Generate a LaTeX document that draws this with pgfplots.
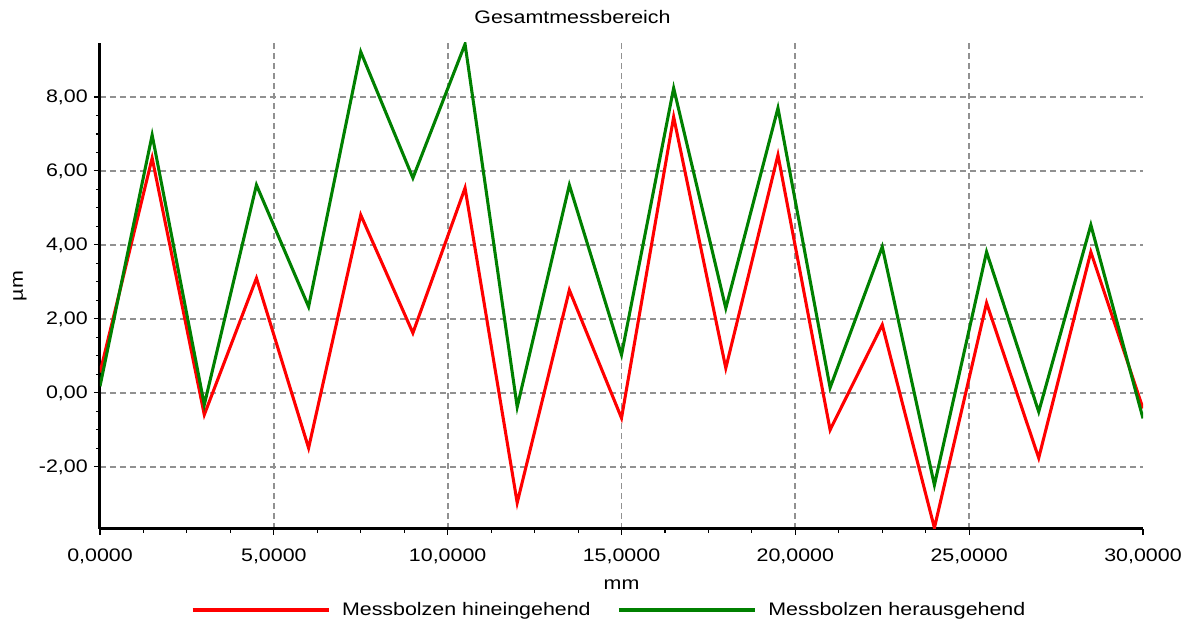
\documentclass[border=0pt]{standalone}
\usepackage{pgfplots}
\pgfplotsset{compat=1.18}
\usepackage{fontspec}
\setmainfont{Liberation Sans}[FakeStretch=1.18]
\definecolor{myred}{RGB}{255,0,0}
\definecolor{mygreen}{RGB}{0,128,0}
\definecolor{gridgray}{RGB}{145,145,145}
\pgfplotstableread{
x red green
0.0 0.55 0.18
1.5 6.35 6.97
3.0 -0.59 -0.32
4.5 3.10 5.62
6.0 -1.49 2.33
7.5 4.81 9.22
9.0 1.62 5.81
10.5 5.54 9.43
12.0 -2.97 -0.38
13.5 2.78 5.62
15.0 -0.68 1.03
16.5 7.46 8.24
18.0 0.67 2.29
19.5 6.43 7.70
21.0 -1.00 0.14
22.5 1.84 3.95
24.0 -3.65 -2.49
25.5 2.43 3.81
27.0 -1.76 -0.51
28.5 3.81 4.54
30.0 -0.42 -0.69
}\datatable
\begin{document}
\fontsize{13.6pt}{16pt}\selectfont
\begin{tikzpicture}
\begin{axis}[
  scale only axis, width=782.25pt, height=364.5pt,
  xmin=0, xmax=30, ymin=-3.68, ymax=9.46,
  axis x line=bottom, axis y line=left,
  axis line style={-, line width=2.25pt, black},
  every outer x axis line/.append style={-},
  every outer y axis line/.append style={-},
  xtick={0,5,10,15,20,25}, extra x ticks={30}, extra x tick style={grid=none},
  ytick={-2,0,2,4,6,8},
  minor x tick num=3, minor y tick num=3,
  tick align=outside, major tick length=4.5pt, minor tick length=3pt,
  tick style={black, line width=0.8pt},
  grid=major,
  major grid style={gridgray, line width=1.3pt, dash pattern=on 4.5pt off 3pt},
  /pgf/number format/assume math mode=true,
  x tick label style={yshift=-5.5pt, /pgf/number format/.cd, fixed, fixed zerofill, precision=4, use comma, 1000 sep={}},
  y tick label style={/pgf/number format/.cd, fixed, fixed zerofill, precision=2, use comma},
  title={Gesamtmessbereich},
  title style={at={(axis description cs:0.453,1.036)}, anchor=center},
  xlabel={mm},
  xlabel style={at={(axis description cs:0.5,-0.115)}, anchor=center},
  ylabel={µm},
  ylabel style={at={(axis description cs:-0.0767,0.5)}, anchor=center},
  legend style={draw=none, fill=none, at={(0.4885,-0.1667)}, anchor=center,
    legend columns=2,
    /tikz/every odd column/.append style={column sep=7pt},
    /tikz/every even column/.append style={column sep=18pt}},
  legend image code/.code={\draw[#1, line width=2.3pt] (0pt,0pt) -- (102pt,0pt);},
]
\addplot[myred, line width=2.3pt, line join=miter] table[x=x, y=red] {\datatable};
\addlegendentry{Messbolzen hineingehend}
\addplot[mygreen, line width=2.3pt, line join=miter] table[x=x, y=green] {\datatable};
\addlegendentry{Messbolzen herausgehend}
\end{axis}
\pgfresetboundingbox
\path ([xshift=-75pt,yshift=-70.5pt]current axis.south west) rectangle ([xshift=33pt,yshift=32.25pt]current axis.north east);
\end{tikzpicture}
\end{document}
